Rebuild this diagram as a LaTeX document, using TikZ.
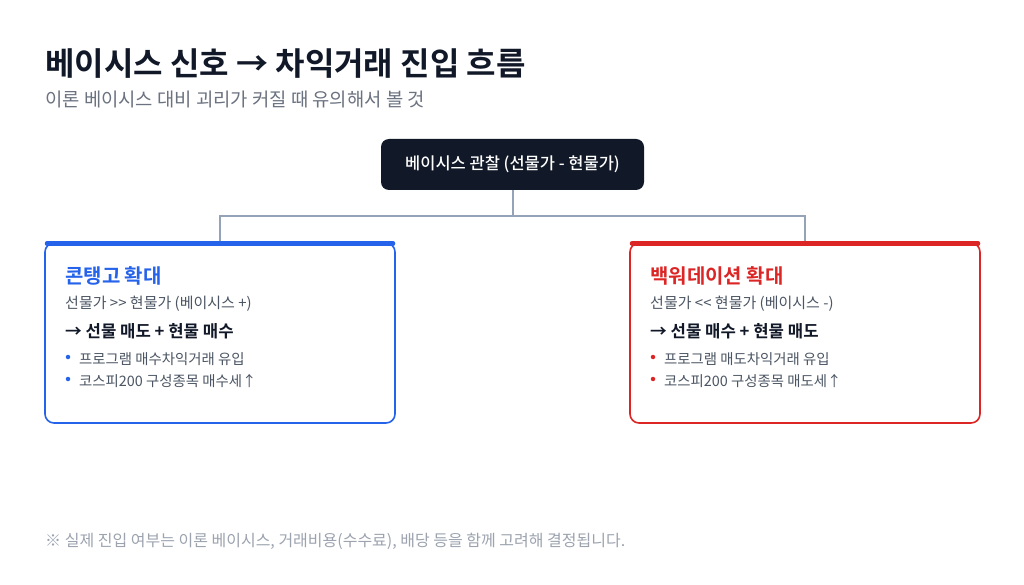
\documentclass[tikz,border=0pt]{standalone}
\usepackage{fontspec}
\setmainfont{Noto Sans CJK KR}
\newfontfamily\krb{Noto Sans CJK KR Bold}
\newfontfamily\krm{Noto Sans CJK KR Medium}
\definecolor{ink}{HTML}{111827}
\definecolor{subgray}{HTML}{6B7280}
\definecolor{txtgray}{HTML}{4B5563}
\definecolor{notegray}{HTML}{9CA3AF}
\definecolor{linegray}{HTML}{94A3B8}
\definecolor{cblue}{HTML}{2563EB}
\definecolor{cred}{HTML}{DC2626}
\tikzset{
  lbl/.style={anchor=base west, inner sep=0pt},
  card/.style={draw=#1, line width=1.6pt, rounded corners=9pt, fill=white},
  topbar/.style={draw=#1, line width=4.5pt, line cap=round},
  conn/.style={draw=linegray, line width=2pt},
  dot/.style={circle, fill=#1, inner sep=0pt, minimum size=4.5pt},
}
\begin{document}
\begin{tikzpicture}[x=1pt,y=-1pt]
\useasboundingbox (0,0) rectangle (1024,585);
\fill[white] (0,0) rectangle (1024,585);
% title
\node[lbl, text=ink, font=\krb\fontsize{32}{36}\selectfont] (title) at (45,76) {베이시스 신호 → 차익거래 진입 흐름};
\node[lbl, text=subgray, font=\fontsize{18.8}{22}\selectfont] (sub) at (45,107) {이론 베이시스 대비 괴리가 커질 때 유의해서 볼 것};
% center box
\node[fill=ink, rounded corners=8pt, minimum width=263pt, minimum height=51pt, text=white, font=\krm\fontsize{16.5}{19}\selectfont, inner sep=0pt] (obs) at (512.5,164.5) {베이시스 관찰 (선물가 - 현물가)};
% cards
\draw[card=cblue] (45,243) rectangle (395,423);
\draw[card=cred] (630,243) rectangle (980,423);
\coordinate (ltop) at (220,243);
\coordinate (rtop) at (805,243);
\coordinate (split) at (512.5,216);
\draw[conn] (obs.south) -- (split);
\draw[conn] (ltop) |- (split) -| (rtop);
\draw[topbar=cblue] (47,243.5) -- (393,243.5);
\draw[topbar=cred] (632,243.5) -- (978,243.5);
% left content
\node[lbl, text=cblue, font=\krb\fontsize{20}{23}\selectfont] (lt) at (65,283) {콘탱고 확대};
\node[lbl, text=txtgray, font=\fontsize{15}{18}\selectfont] (l1) at (65,308) {선물가 >\kern0pt> 현물가 (베이시스 +)};
\node[lbl, text=ink, font=\krb\fontsize{16.7}{19}\selectfont] (l2) at (65,337) {→ 선물 매도 + 현물 매수};
\node[dot=cblue] (lb1) at (68,357) {};
\node[lbl, text=txtgray, font=\fontsize{14.4}{17}\selectfont] (l3) at (79,364) {프로그램 매수차익거래 유입};
\node[dot=cblue] (lb2) at (68,379) {};
\node[lbl, text=txtgray, font=\fontsize{14.4}{17}\selectfont] (l4) at (79,386) {코스피200 구성종목 매수세↑};
% right content
\node[lbl, text=cred, font=\krb\fontsize{20}{23}\selectfont] (rt) at (650,283) {백워데이션 확대};
\node[lbl, text=txtgray, font=\fontsize{15}{18}\selectfont] (r1) at (650,308) {선물가 <\kern0pt< 현물가 (베이시스 -)};
\node[lbl, text=ink, font=\krb\fontsize{16.7}{19}\selectfont] (r2) at (650,337) {→ 선물 매수 + 현물 매도};
\node[dot=cred] (rb1) at (653,357) {};
\node[lbl, text=txtgray, font=\fontsize{14.4}{17}\selectfont] (r3) at (664,364) {프로그램 매도차익거래 유입};
\node[dot=cred] (rb2) at (653,379) {};
\node[lbl, text=txtgray, font=\fontsize{14.4}{17}\selectfont] (r4) at (664,386) {코스피200 구성종목 매도세↑};
% footnote
\node[lbl, text=notegray, font=\fontsize{16}{19}\selectfont] (note) at (45,546) {※ 실제 진입 여부는 이론 베이시스, 거래비용(수수료), 배당 등을 함께 고려해 결정됩니다.};
\end{tikzpicture}
\end{document}
